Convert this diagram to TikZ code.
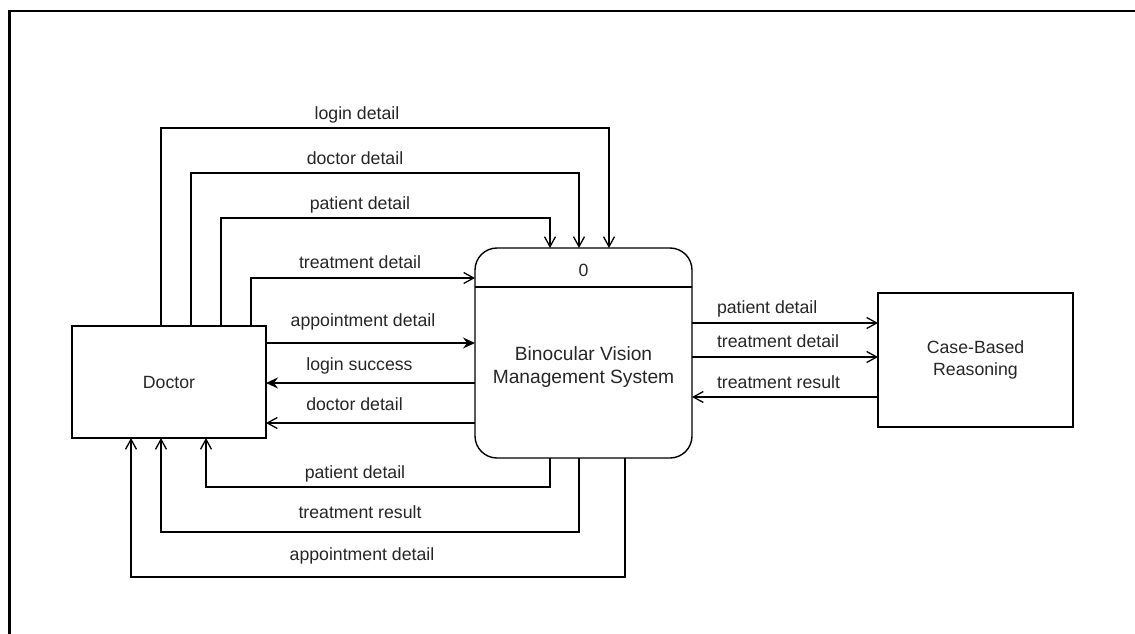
\documentclass[tikz,border=0pt]{standalone}
\usepackage{fontspec}
\setmainfont{Liberation Sans}
\usetikzlibrary{arrows.meta}
\begin{document}
\begin{tikzpicture}[x=1pt,y=-1pt,
  every node/.style={font=\fontsize{17.7}{22.5}\selectfont, inner sep=0pt, outer sep=0pt, text=black!85},
  entity/.style={draw, line width=1.4pt, align=center},
  process/.style={draw, line width=1.4pt, rounded corners=22pt},
  flow/.style={draw, line width=1.3pt, -{Straight Barb[length=10pt,width=11pt,line width=1.3pt]}},
  flowfill/.style={draw, line width=1.3pt, -{Stealth[length=12pt,width=11pt,inset=4pt]}},
  lbl/.style={anchor=base},
  lblw/.style={anchor=base west}
]
\useasboundingbox (0,0) rectangle (1135,634);

% page frame (only its top and left edges fall inside)
\draw[line width=2.5pt] (9.5,634) -- (9.5,11) -- (1135,11);

% external entities and the process
\node[entity, minimum width=194pt, minimum height=112pt] (doc) at (169,382) {Doctor};
\node[entity, minimum width=195pt, minimum height=134pt] (cbr) at (975.5,360) {Case-Based\\Reasoning};
\node[process, minimum width=217pt, minimum height=210pt] (sys) at (583.5,353) {};
\node (sysid) at (583.5,270) {0};
\node[align=center, font=\fontsize{19.2}{22.5}\selectfont] (sysname) at (583.5,367) {Binocular Vision\\Management System};
\coordinate (sep) at (583.5,287);
\draw[line width=1.4pt] (sys.west |- sep) -- (sys.east |- sep);

% bend points of the flows
\coordinate (u1) at (161,128); \coordinate (v1) at (609,128);
\coordinate (u2) at (191,173); \coordinate (v2) at (579,173);
\coordinate (u3) at (221,218); \coordinate (v3) at (550,218);
\coordinate (u4) at (251,278);
\coordinate (h1) at (0,343);
\coordinate (h2) at (0,383);
\coordinate (h3) at (0,423);
\coordinate (w1) at (550,487); \coordinate (z1) at (206,487);
\coordinate (w2) at (579,532); \coordinate (z2) at (161,532);
\coordinate (w3) at (625,577); \coordinate (z3) at (131,577);
\coordinate (r1) at (0,323);
\coordinate (r2) at (0,357);
\coordinate (r3) at (0,397);

% Doctor -> system
\draw[flow] (doc.north -| u1) |- (v1) -- (sys.north -| v1);
\draw[flow] (doc.north -| u2) |- (v2) -- (sys.north -| v2);
\draw[flow] (doc.north -| u3) |- (v3) -- (sys.north -| v3);
\draw[flow] (doc.north -| u4) |- (sys.west |- u4);
\draw[flowfill] (doc.east |- h1) -- (sys.west |- h1);

% system -> Doctor
\draw[flowfill] (sys.west |- h2) -- (doc.east |- h2);
\draw[flow] (sys.west |- h3) -- (doc.east |- h3);
\draw[flow] (sys.south -| w1) |- (z1) -- (doc.south -| z1);
\draw[flow] (sys.south -| w2) |- (z2) -- (doc.south -| z2);
\draw[flow] (sys.south -| w3) |- (z3) -- (doc.south -| z3);

% system <-> Case-Based Reasoning
\draw[flow] (sys.east |- r1) -- (cbr.west |- r1);
\draw[flow] (sys.east |- r2) -- (cbr.west |- r2);
\draw[flow] (cbr.west |- r3) -- (sys.east |- r3);

% flow labels
\node[lbl] (l1) at (357,119) {login detail};
\node[lbl] (l2) at (355,164) {doctor detail};
\node[lbl] (l3) at (360,209) {patient detail};
\node[lbl] (l4) at (360,268) {treatment detail};
\node[lbl] (l5) at (363,326) {appointment detail};
\node[lbl] (l6) at (359.5,370) {login success};
\node[lbl] (l7) at (354.5,410) {doctor detail};
\node[lbl] (l8) at (355,478) {patient detail};
\node[lbl] (l9) at (360,518) {treatment result};
\node[lbl] (l10) at (362,560) {appointment detail};
\node[lblw] (l11) at (717,313) {patient detail};
\node[lblw] (l12) at (717,347) {treatment detail};
\node[lblw] (l13) at (717,388) {treatment result};
\end{tikzpicture}
\end{document}
